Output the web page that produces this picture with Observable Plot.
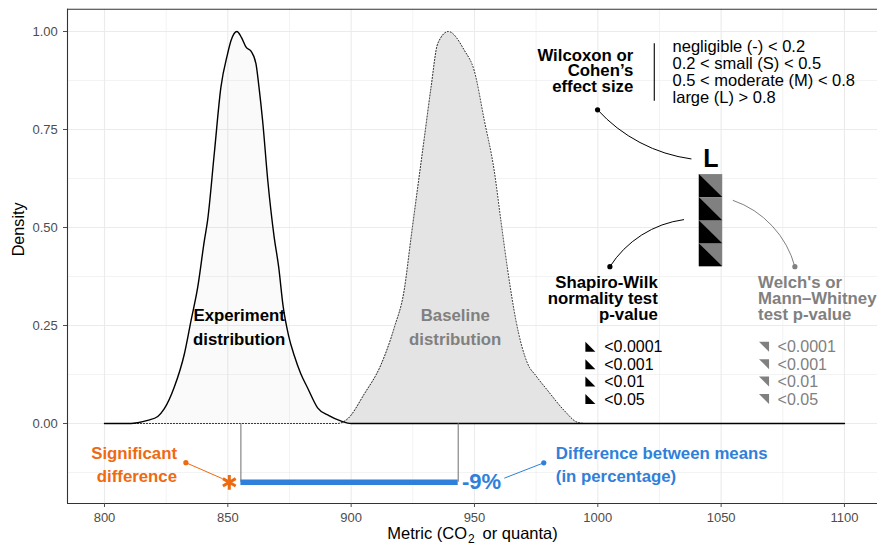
<!DOCTYPE html>
<html><head><meta charset="utf-8">
<script src="https://cdn.jsdelivr.net/npm/d3@7"></script>
<script src="https://cdn.jsdelivr.net/npm/@observablehq/plot@0.6"></script>
<style>
html,body{margin:0;padding:0;background:#fff;}
#chart{width:877px;height:548px;overflow:hidden;}
#chart svg{font-family:"Liberation Sans",Arial,Helvetica,sans-serif;}
</style></head><body><div id="chart"></div>
<script>
// ---- data ----
const expX = [800, 810.7, 813.5, 817.5, 821.6, 824.2, 828.3, 832.4, 835.1, 837.8, 840.5, 841.8, 844.5, 847.2, 849.9, 851.3, 853.7, 855.5, 857.4, 859.4, 861.4, 862.6, 864.1, 866.2, 868.8, 870.6, 872.4, 874.6, 877, 879.5, 882.4, 886.4, 891, 896, 900, 1100];
const expY = [0, 0, 0.002, 0.008, 0.018, 0.037, 0.093, 0.178, 0.263, 0.348, 0.467, 0.518, 0.688, 0.858, 0.943, 0.977, 1.0, 0.985, 0.960, 0.950, 0.918, 0.86, 0.773, 0.620, 0.475, 0.40, 0.30, 0.225, 0.172, 0.128, 0.090, 0.040, 0.020, 0.006, 0, 0];
const baseX = [800, 894.5, 898.6, 905.3, 912.1, 917.5, 921.5, 924.3, 927.0, 929.7, 932.4, 935.1, 939.4, 945.9, 949.9, 954.0, 958.0, 960.7, 963.5, 966.8, 971.6, 974.9, 979.7, 986.4, 991.8, 995, 1100];
const baseY = [0, 0, 0.012, 0.075, 0.150, 0.245, 0.340, 0.475, 0.603, 0.730, 0.858, 0.969, 1.0, 0.952, 0.90, 0.773, 0.645, 0.518, 0.390, 0.263, 0.152, 0.122, 0.084, 0.033, 0.003, 0, 0];

const xTicks = [800, 850, 900, 950, 1000, 1050, 1100];
const xMinor = [825, 875, 925, 975, 1025, 1075];
const yTicks = [0, 0.25, 0.5, 0.75, 1];
const yMinor = [-0.125, 0.125, 0.375, 0.625, 0.875];

const groupMeans = [855.3, 943.4];           // experiment, baseline
const diffLabel = ["-9%"];
const effectSizeLabel = ["L"];
const effectLegend = ["negligible (-) < 0.2", "0.2 < small (S) < 0.5", "0.5 < moderate (M) < 0.8", "large (L) > 0.8"];
const pLevels = ["<0.0001", "<0.001", "<0.01", "<0.05"];
const shapiroLevel = 4;  // cells filled (black)
const welchLevel = 4;    // cells filled (grey)

// ---- layout helpers (data units) ----
const xDomain = [785, 1113.4];
const yDomain = [-0.2041, 1.0569];
const barY = -0.150;
const orange = "#EE6A10";
const blue = "#2F80DA";
const grey = "#808080";

const exp = expX.map((x, i) => ({x, y: expY[i]}));
const base = baseX.map((x, i) => ({x, y: baseY[i]}));

// effect-size cells
const cellX = 1045.9, cellHalfW = 4.75, cellTop = 0.635, cellH = 0.05875;
const cells = d3.range(Math.max(shapiroLevel, welchLevel)).map(i => ({
  i, x1: cellX - cellHalfW, x2: cellX + cellHalfW,
  top: cellTop - i * cellH, bottom: cellTop - (i + 1) * cellH
}));
const cellTri = cells.filter(c => c.i < shapiroLevel).flatMap(c => [
  {c: c.i, x: c.x1, y1: c.bottom, y2: c.top},
  {c: c.i, x: c.x2, y1: c.bottom, y2: c.bottom}
]);

// p-value legend
const rowY0 = 0.1946, rowStep = 0.0445;
const rows = pLevels.map((p, i) => ({p, y: rowY0 - i * rowStep}));
const triW = 2.03, triH = 0.0128;
const blackTri = rows.flatMap((r, i) => [
  {c: i, x: 997.2 - triW, y1: r.y - triH, y2: r.y + triH},
  {c: i, x: 997.2 + triW, y1: r.y - triH, y2: r.y - triH}
]);
const greyTri = rows.flatMap((r, i) => [
  {c: i, x: 1067.6 - triW, y1: r.y + triH, y2: r.y + triH},
  {c: i, x: 1067.6 + triW, y1: r.y - triH, y2: r.y + triH}
]);

const bold = 16.8;
const lhWide = 1.39;
const tightSize = 16.8, lhTight = 0.935;

const chart = Plot.plot({
  width: 877, height: 548,
  marginLeft: 67, marginRight: 0, marginTop: 8.7, marginBottom: 45,
  x: {domain: xDomain},
  y: {domain: yDomain},
  style: {fontFamily: '"Liberation Sans", Arial, Helvetica, sans-serif', background: "#fff"},
  marks: [
    // grid
    Plot.ruleX(xMinor, {stroke: "#ebebeb", strokeWidth: 0.6}),
    Plot.ruleY(yMinor, {stroke: "#ebebeb", strokeWidth: 0.6}),
    Plot.ruleX(xTicks, {stroke: "#ebebeb", strokeWidth: 1.1}),
    Plot.ruleY(yTicks, {stroke: "#ebebeb", strokeWidth: 1.1}),
    // densities
    Plot.areaY(base, {x: "x", y: "y", fill: "#e4e4e4", curve: "monotone-x"}),
    Plot.areaY(exp, {x: "x", y: "y", fill: "#000", fillOpacity: 0.02, curve: "monotone-x"}),
    Plot.line(base, {x: "x", y: "y", stroke: "#222", strokeWidth: 1, strokeDasharray: "1 2", curve: "monotone-x"}),
    Plot.line(exp, {x: "x", y: "y", stroke: "#000", strokeWidth: 1.4, curve: "monotone-x"}),
    Plot.text(["Experiment\ndistribution"], {x: () => 854.6, y: () => 0.25, text: d => d, fontSize: bold, fontWeight: "bold", fill: "#000", lineHeight: lhWide}),
    Plot.text(["Baseline\ndistribution"], {x: () => 942.2, y: () => 0.25, text: d => d, fontSize: bold, fontWeight: "bold", fill: grey, lineHeight: lhWide}),
    // difference between means
    Plot.ruleX(groupMeans, {y1: 0, y2: barY, stroke: "#6e6e6e", strokeWidth: 1}),
    Plot.ruleY([barY], {x1: groupMeans[0], x2: groupMeans[1], stroke: blue, strokeWidth: 5.5}),
    Plot.text(diffLabel, {x: () => 944.9, y: () => barY, text: d => d, textAnchor: "start", fontSize: 22, fontWeight: "bold", fill: blue}),
    Plot.link([{x1: 962.1, y1: -0.1395, x2: 978.1, y2: -0.1003}], {x1: "x1", y1: "y1", x2: "x2", y2: "y2", stroke: blue, strokeWidth: 1}),
    Plot.dot([{x: 978.1, y: -0.1003}], {x: "x", y: "y", r: 2.6, fill: blue}),
    Plot.text(["Difference between means\n(in percentage)"], {x: () => 983.0, y: () => -0.1008, text: d => d, textAnchor: "start", fontSize: bold, fontWeight: "bold", fill: blue, lineHeight: lhWide}),
    // significance
    Plot.dot([{x: 850.6, y: barY}], {x: "x", y: "y", symbol: "asterisk", r: 7, stroke: orange, strokeWidth: 3}),
    Plot.link([{x1: 833.0, y1: -0.100, x2: 847.9, y2: -0.141}], {x1: "x1", y1: "y1", x2: "x2", y2: "y2", stroke: orange, strokeWidth: 1}),
    Plot.dot([{x: 833.0, y: -0.100}], {x: "x", y: "y", r: 2.6, fill: orange}),
    Plot.text(["Significant\ndifference"], {x: () => 829.4, y: () => -0.1003, text: d => d, textAnchor: "end", fontSize: bold, fontWeight: "bold", fill: orange, lineHeight: lhWide}),
    // effect size key
    Plot.text(["Wilcoxon or\nCohen\u2019s\neffect size"], {x: () => 1014.4, y: () => 0.8987, text: d => d, textAnchor: "end", fontSize: tightSize, fontWeight: "bold", fill: "#000", lineHeight: lhTight}),
    Plot.ruleX([1022.9], {y1: 0.8222, y2: 0.9686, stroke: "#000", strokeWidth: 1.1}),
    Plot.text([effectLegend.join("\n")], {x: () => 1030.3, y: () => 0.897, text: d => d, textAnchor: "start", fontSize: 16.5, fill: "#000", lineHeight: 1.03}),
    Plot.arrow([{x1: 999.9, y1: 0.8003, x2: 1037.8, y2: 0.675}], {x1: "x1", y1: "y1", x2: "x2", y2: "y2", bend: -20, headLength: 0, stroke: "#000", strokeWidth: 1}),
    Plot.dot([{x: 999.9, y: 0.8003}], {x: "x", y: "y", r: 2.6, fill: "#000"}),
    Plot.text(effectSizeLabel, {x: () => cellX, y: () => 0.676, text: d => d, fontSize: 25, fontWeight: "bold", fill: "#000"}),
    // cells
    Plot.rect(cells, {x1: "x1", x2: "x2", y1: "bottom", y2: "top", fill: grey}),
    Plot.areaY(cellTri, {x: "x", y1: "y1", y2: "y2", z: "c", fill: "#000"}),
    // test connectors
    Plot.arrow([{x1: 1004.9, y1: 0.40, x2: 1034.8, y2: 0.52}], {x1: "x1", y1: "y1", x2: "x2", y2: "y2", bend: 25, headLength: 0, stroke: "#000", strokeWidth: 1}),
    Plot.dot([{x: 1004.9, y: 0.40}], {x: "x", y: "y", r: 2.6, fill: "#000"}),
    Plot.arrow([{x1: 1054.9, y1: 0.569, x2: 1079.9, y2: 0.40}], {x1: "x1", y1: "y1", x2: "x2", y2: "y2", bend: 28, headLength: 0, stroke: grey, strokeWidth: 1}),
    Plot.dot([{x: 1079.9, y: 0.40}], {x: "x", y: "y", r: 2.6, fill: grey}),
    Plot.text(["Shapiro-Wilk\nnormality test\np-value"], {x: () => 1024.3, y: () => 0.318, text: d => d, textAnchor: "end", fontSize: tightSize, fontWeight: "bold", fill: "#000", lineHeight: lhTight}),
    Plot.text(["Welch's or\nMann\u2013Whitney\ntest p-value"], {x: () => 1065.0, y: () => 0.318, text: d => d, textAnchor: "start", fontSize: tightSize, fontWeight: "bold", fill: grey, lineHeight: lhTight}),
    // p-value legend
    Plot.areaY(blackTri, {x: "x", y1: "y1", y2: "y2", z: "c", fill: "#000"}),
    Plot.areaY(greyTri, {x: "x", y1: "y1", y2: "y2", z: "c", fill: grey}),
    Plot.text(rows, {x: () => 1002.6, y: "y", text: "p", textAnchor: "start", fontSize: 16, fill: "#000"}),
    Plot.text(rows, {x: () => 1072.9, y: "y", text: "p", textAnchor: "start", fontSize: 16, fill: grey}),
    // panel border (right edge lies outside the picture)
    Plot.ruleY([yDomain[0], yDomain[1]], {stroke: "#333", strokeWidth: 1.1}),
    Plot.ruleX([xDomain[0]], {stroke: "#333", strokeWidth: 1.1}),
    // axes
    Plot.axisX({ticks: xTicks, tickSize: 4, tickPadding: 5.5, tickFormat: d => String(d), fontSize: 13, color: "#4d4d4d", label: null}),
    Plot.axisY({ticks: yTicks, tickSize: 4, tickPadding: 5.7, tickFormat: d => d.toFixed(2), fontSize: 13, color: "#4d4d4d", label: null}),
    Plot.text(["Metric (CO2 or quanta)"], {frameAnchor: "bottom", dy: 35, text: d => d, fontSize: 16.5, fill: "#000", className: "xtitle"}),
    Plot.text(["Density"], {frameAnchor: "left", dx: -48.7, rotate: -90, text: d => d, fontSize: 16.2, fill: "#000"})
  ]
});
// typeset the subscript in the x-axis title
const xt = chart.querySelector("g.xtitle text");
if (xt) {
  const full = xt.textContent;
  const k = full.indexOf("CO2");
  xt.textContent = "";
  const t1 = document.createElementNS("http://www.w3.org/2000/svg", "tspan");
  t1.textContent = full.slice(0, k + 2);
  const t2 = document.createElementNS("http://www.w3.org/2000/svg", "tspan");
  t2.textContent = "2"; t2.setAttribute("font-size", "12"); t2.setAttribute("dy", "4"); t2.setAttribute("dx", "1");
  const t3 = document.createElementNS("http://www.w3.org/2000/svg", "tspan");
  t3.textContent = "\u2009" + full.slice(k + 3); t3.setAttribute("dy", "-4");
  xt.append(t1, t2, t3);
}
document.getElementById("chart").appendChild(chart);
</script>
</body></html>
